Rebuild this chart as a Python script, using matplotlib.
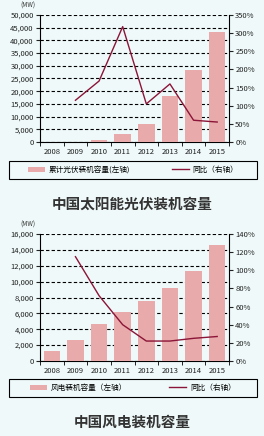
import matplotlib
matplotlib.use("Agg")
import matplotlib.pyplot as plt
import numpy as np
from matplotlib.ticker import FuncFormatter, MultipleLocator
from matplotlib.patches import Patch, Rectangle
from matplotlib.lines import Line2D

plt.rcParams['font.family'] = ['Noto Sans CJK SC', 'DejaVu Sans']

years = ['2008', '2009', '2010', '2011', '2012', '2013', '2014', '2015']

solar_cap = [40, 160, 800, 3300, 7000, 18000, 28200, 43200]
solar_yoy = [None, 115, 168, 318, 105, 160, 60, 55]

wind_cap = [1300, 2600, 4600, 6200, 7600, 9200, 11400, 14600]
wind_yoy = [None, 115, 72, 40, 22, 22, 25, 27]

solar_labels = ['累计光伏装机容量(左轴)', '同比（右轴）']
wind_labels = ['风电装机容量（左轴）', '同比（右轴）']
titles = ['中国太阳能光伏装机容量', '中国风电装机容量']

BG = '#EFF9F9'
BAR = '#E8AAAA'
LINE = '#8B1538'

W, H = 264, 436
fig = plt.figure(figsize=(W / 100, H / 100), dpi=100, facecolor=BG)


def fx(px):
    return px / W


def fy(py):
    return 1 - py / H


def draw(top_px, bot_px, caps, yoy, ymax, ystep, rmax, rstep, labels, leg_top, leg_bot, title, title_y):
    ax = fig.add_axes([fx(40), fy(bot_px), fx(229) - fx(40), fy(top_px) - fy(bot_px)])
    ax.set_facecolor(BG)
    x = np.arange(len(years))
    ax.bar(x, caps, width=0.7, color=BAR, zorder=3)
    ax.set_xlim(-0.5, len(years) - 0.5)
    ax.set_ylim(0, ymax)
    ax.yaxis.set_major_locator(MultipleLocator(ystep))
    ax.yaxis.set_major_formatter(FuncFormatter(lambda v, p: f'{int(v):,}'))
    ax.set_xticks(x)
    ax.set_xticklabels(years)
    ax.set_xticks(np.arange(-0.5, len(years), 1), minor=True)
    ax.tick_params(axis='x', which='major', length=0, labelsize=5.5, pad=4, colors='#222222')
    ax.tick_params(axis='x', which='minor', length=3, direction='out')
    ax.tick_params(axis='y', labelsize=5.5, length=3, direction='out', pad=1.5, colors='#222222')
    ax.spines['top'].set_visible(False)
    ax.spines['right'].set_visible(False)
    for s in ['left', 'bottom']:
        ax.spines[s].set_linewidth(0.8)
    ax.grid(axis='y', linestyle=(0, (3, 2)), color='black', linewidth=0.8, zorder=1)
    ax.set_axisbelow(True)

    ax2 = ax.twinx()
    xs = [i for i, v in enumerate(yoy) if v is not None]
    vs = [v for v in yoy if v is not None]
    ax2.plot(xs, vs, color=LINE, linewidth=1.0, zorder=4)
    ax2.set_ylim(0, rmax)
    ax2.yaxis.set_major_locator(MultipleLocator(rstep))
    ax2.yaxis.set_major_formatter(FuncFormatter(lambda v, p: f'{int(v)}%'))
    ax2.tick_params(axis='y', labelsize=5.5, length=3, direction='out', pad=1.5, colors='#222222')
    ax2.spines['top'].set_visible(False)
    ax2.spines['left'].set_visible(False)
    ax2.spines['right'].set_linewidth(0.8)
    ax2.spines['bottom'].set_visible(False)

    fig.text(fx(28), fy(top_px - 9), '(MW)', fontsize=4.5, ha='center', va='center',
             color='#333333')

    # legend frame
    fig.patches.append(Rectangle((fx(9), fy(leg_bot)), fx(257) - fx(9), fy(leg_top) - fy(leg_bot),
                                 transform=fig.transFigure, facecolor=BG, edgecolor='black',
                                 linewidth=0.8, zorder=0))
    handles = [Patch(facecolor=BAR, edgecolor='none'), Line2D([0], [0], color=LINE, lw=1.0)]
    fig.legend(handles, labels, loc='center',
               bbox_to_anchor=(fx(133), fy((leg_top + leg_bot) / 2)),
               ncol=2, frameon=False, fontsize=5.5,
               handlelength=2.2, handleheight=0.6, handletextpad=0.5, borderaxespad=0,
               borderpad=0, columnspacing=5.5)

    fig.text(0.5, fy(title_y), title, ha='center', va='center', fontsize=10.5,
             fontweight='bold', color='#333333')


draw(15, 142, solar_cap, solar_yoy, 50000, 5000, 350, 50, solar_labels, 161, 179, titles[0], 204)
draw(234, 361, wind_cap, wind_yoy, 16000, 2000, 140, 20, wind_labels, 379, 397, titles[1], 422)

fig.savefig('out.png', dpi=100, facecolor=BG)
